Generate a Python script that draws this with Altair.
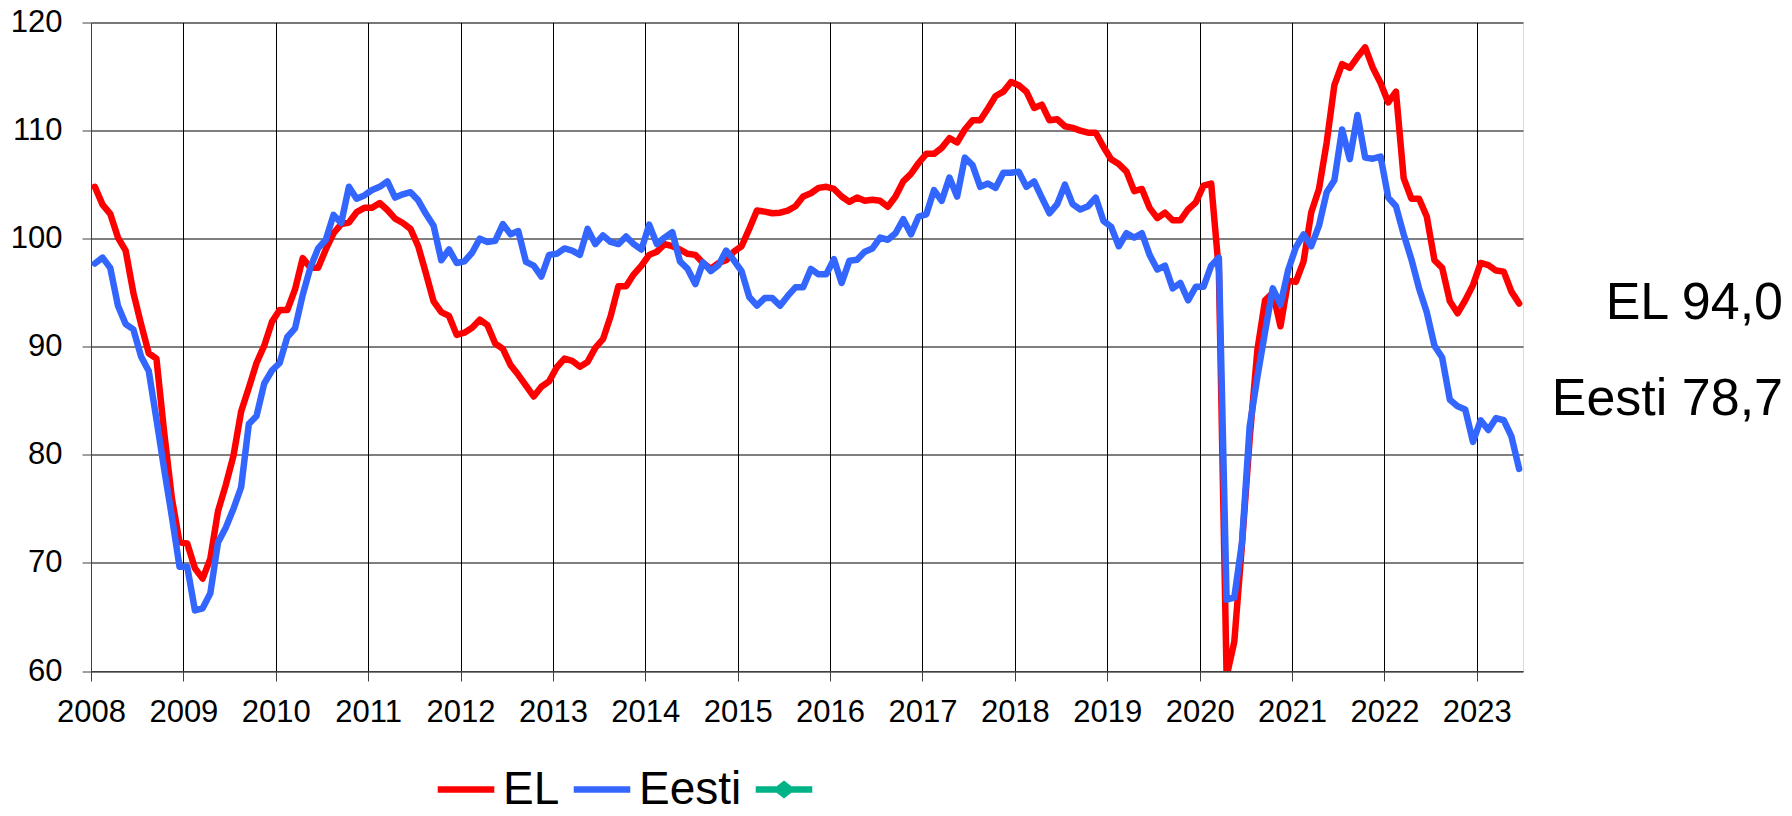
import altair as alt
import pandas as pd

# Monthly values, Jan 2008 .. Jun 2023 (186 months)
el = [
    104.8, 103.15, 102.3, 100.1, 98.9, 95.0, 92.1, 89.4, 88.9, 82.1, 76.0, 71.9,
    71.8, 69.5, 68.55, 70.4, 74.8, 77.2, 79.9, 84.0, 86.2, 88.5, 90.1, 92.3,
    93.4, 93.4, 95.3, 98.2, 97.3, 97.3, 99.0, 100.5, 101.35, 101.5, 102.45, 102.85,
    102.85, 103.3, 102.65, 101.85, 101.45, 100.9, 99.3, 96.8, 94.2, 93.2, 92.85, 91.1,
    91.3, 91.75, 92.5, 92.0, 90.3, 89.8, 88.3, 87.4, 86.4, 85.4, 86.3, 86.8,
    88.1, 88.9, 88.7, 88.15, 88.6, 89.9, 90.7, 92.85, 95.6, 95.6, 96.7, 97.5,
    98.5, 98.8, 99.5, 99.3, 99.0, 98.6, 98.5, 97.75, 97.2, 97.75, 98.0, 98.8,
    99.3, 100.9, 102.6, 102.5, 102.35, 102.4, 102.6, 103.0, 103.9, 104.2, 104.7, 104.8,
    104.6, 103.9, 103.4, 103.8, 103.5, 103.6, 103.5, 102.95, 103.9, 105.3, 106.0, 107.0,
    107.85, 107.85, 108.4, 109.3, 108.9, 110.1, 110.95, 110.95, 112.05, 113.2, 113.6, 114.5,
    114.2, 113.6, 112.1, 112.4, 110.95, 111.05, 110.4, 110.25, 110.0, 109.8, 109.8, 108.5,
    107.35, 106.9, 106.2, 104.4, 104.6, 102.85, 101.9, 102.4, 101.7, 101.7, 102.7, 103.35,
    104.9, 105.1, 97.0, 59.5, 62.7, 71.7, 81.5, 89.7, 94.3, 95.0, 91.9, 96.1,
    96.0, 97.9, 102.45, 104.6, 108.9, 114.2, 116.15, 115.8, 116.8, 117.7, 115.8, 114.4,
    112.6, 113.6, 105.6, 103.7, 103.7, 102.05, 98.0, 97.3, 94.2, 93.1, 94.3, 95.7,
    97.75, 97.55, 97.05, 96.95, 95.1, 94.0,
]
eesti = [
    97.7, 98.25, 97.3, 93.8, 92.1, 91.6, 89.1, 87.75, 83.3, 78.7, 74.3, 69.65,
    69.65, 65.6, 65.8, 67.2, 71.9, 73.25, 75.0, 77.0, 82.85, 83.6, 86.6, 87.8,
    88.5, 90.9, 91.7, 94.8, 97.35, 99.1, 99.9, 102.2, 101.45, 104.8, 103.7, 104.0,
    104.5, 104.8, 105.3, 103.8, 104.1, 104.3, 103.55, 102.3, 101.2, 98.0, 99.0, 97.75,
    97.9, 98.7, 100.0, 99.7, 99.8, 101.35, 100.4, 100.7, 97.85, 97.5, 96.5, 98.5,
    98.6, 99.1, 98.9, 98.5, 100.9, 99.5, 100.3, 99.7, 99.5, 100.2, 99.5, 99.0,
    101.3, 99.5, 100.1, 100.6, 97.9, 97.2, 95.8, 97.8, 97.0, 97.55, 98.9, 98.0,
    97.0, 94.6, 93.8, 94.5, 94.5, 93.8, 94.7, 95.5, 95.5, 97.2, 96.7, 96.7,
    98.1, 95.9, 97.95, 98.05, 98.8, 99.1, 100.1, 99.9, 100.5, 101.8, 100.4, 102.05,
    102.25, 104.5, 103.5, 105.65, 103.9, 107.5, 106.8, 104.8, 105.1, 104.7, 106.1, 106.1,
    106.2, 104.8, 105.3, 103.8, 102.35, 103.2, 105.0, 103.2, 102.7, 103.0, 103.8, 101.65,
    101.1, 99.3, 100.5, 100.1, 100.5, 98.5, 97.15, 97.5, 95.4, 95.9, 94.3, 95.55,
    95.55, 97.5, 98.25, 66.6, 66.8, 71.9, 82.65, 87.2, 91.4, 95.4, 93.9, 97.1,
    99.2, 100.4, 99.3, 101.2, 104.3, 105.4, 110.1, 107.35, 111.45, 107.5, 107.4, 107.6,
    103.8, 103.0, 100.4, 98.1, 95.4, 93.2, 90.1, 89.0, 85.1, 84.5, 84.2, 81.2,
    83.2, 82.3, 83.4, 83.2, 81.7, 78.7,
]
series_names = ["EL", "Eesti", "x3"]
series_colors = ["#FF0000", "#3366FF", "#00B386"]
year_ticks = list(range(2008, 2024))
y_ticks = [60, 70, 80, 90, 100, 110, 120]

rows = []
for name, vals in (("EL", el), ("Eesti", eesti)):
    for i, v in enumerate(vals):
        rows.append({"t": 2008 + (i + 0.5) / 12, "v": v, "s": name, "o": i})
df = pd.DataFrame(rows)

FONT = "Liberation Sans"

lines = alt.Chart(df).mark_line(
    strokeWidth=6.5, strokeJoin="round", strokeCap="round", clip=True
).encode(
    x=alt.X(
        "t:Q",
        scale=alt.Scale(domain=[2008, 2023.5], nice=False, zero=False),
        axis=alt.Axis(
            values=year_ticks, format="d", title=None, labelFont=FONT,
            labelFontSize=31, labelColor="black", labelPadding=16,
            tickSize=10, tickColor="#404040", domainColor="#404040",
            grid=True, gridColor="#000000", gridWidth=1, labelFlush=False,
        ),
    ),
    y=alt.Y(
        "v:Q",
        scale=alt.Scale(domain=[60, 120], nice=False, zero=False),
        axis=alt.Axis(
            values=y_ticks, title=None, labelFont=FONT, labelFontSize=31,
            labelColor="black", labelPadding=20, tickSize=9,
            tickColor="#404040", domainColor="#404040", grid=True,
            gridColor="#000000", gridWidth=1,
        ),
    ),
    color=alt.Color(
        "s:N",
        scale=alt.Scale(domain=series_names, range=series_colors),
        legend=alt.Legend(
            orient="none", legendX=343, legendY=735, direction="horizontal",
            title=None, labelFont=FONT, labelFontSize=46, labelColor="black",
            symbolType={"expr": "datum.value === 'x3' ? 'M-1,0L1,0M0,-0.17L0.22,0L0,0.17L-0.22,0Z' : 'stroke'"},
            symbolSize=3200, symbolStrokeWidth=6.5,
            labelOffset=5, columnPadding=0, padding=0,
            labelExpr="datum.value === 'x3' ? '' : datum.label",
        ),
    ),
    order="o:Q",
)

ann = pd.DataFrame({
    "label": [
        "EL " + f"{el[-1]:.1f}".replace(".", ","),
        "Eesti " + f"{eesti[-1]:.1f}".replace(".", ","),
    ],
})
ann_el = alt.Chart(ann.iloc[[0]]).mark_text(
    align="right", baseline="alphabetic", font=FONT, fontSize=52, color="black"
).encode(x=alt.value(1692), y=alt.value(296.8), text="label:N")
ann_ee = alt.Chart(ann.iloc[[1]]).mark_text(
    align="right", baseline="alphabetic", font=FONT, fontSize=52, color="black"
).encode(x=alt.value(1692), y=alt.value(392.5), text="label:N")

chart = alt.layer(lines, ann_el, ann_ee).properties(
    width=1432, height=648.5,
    autosize=alt.AutoSizeParams(type="none"),
    padding={"left": 83, "top": 14.5, "right": 261, "bottom": 137},
).configure_view(stroke="#808080", strokeWidth=2).configure(background="white")

chart.save("out.html", embed_options={"renderer": "svg", "actions": False})
